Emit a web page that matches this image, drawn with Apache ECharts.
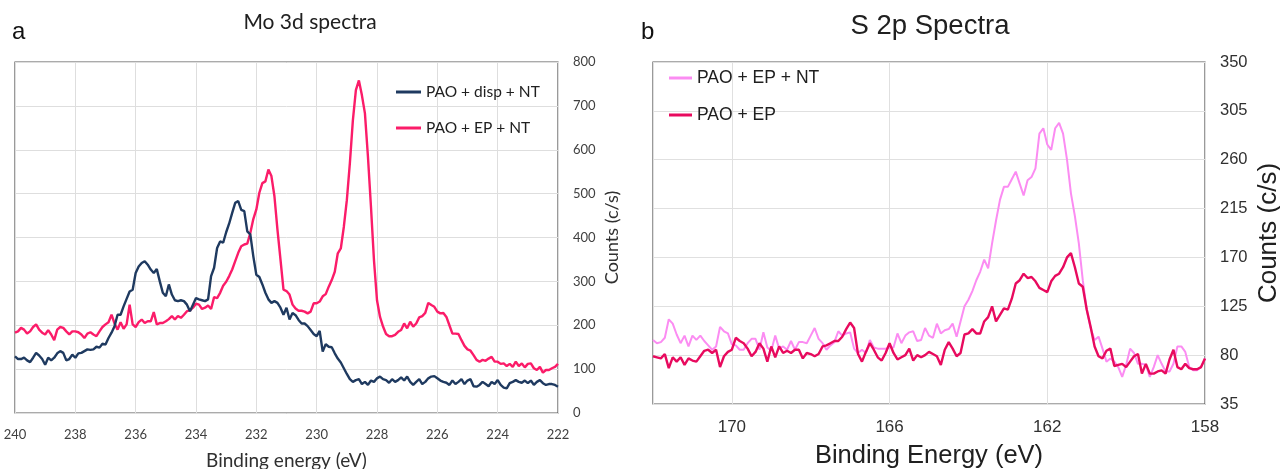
<!DOCTYPE html>
<html>
<head>
<meta charset="utf-8">
<script src="https://cdn.jsdelivr.net/npm/echarts@6/dist/echarts.min.js"></script>
<style>
html,body{margin:0;padding:0;background:#fff;}
#chart{width:1280px;height:469px;}
</style>
</head>
<body>
<div id="chart"></div>
<script>
// ---------- Panel a: Mo 3d spectra (binding energy 240.0 -> 222.0 eV, step 0.1) ----------
const moStart = 240.0;
const moStep = -0.1;
const moDispNT = [
129,123,123,126,120,116,126,137,131,123,110,126,120,126,136,141,137,120,123,133,
126,136,137,141,145,144,145,151,149,158,156,171,183,198,224,224,243,260,277,281,
319,334,342,346,338,327,319,328,300,274,266,293,270,257,255,257,255,247,232,247,
262,259,257,255,259,312,331,376,391,388,412,432,456,479,483,463,460,414,407,357,
315,310,293,274,259,251,255,251,240,224,240,213,228,
223,212,204,204,198,189,180,175,187,140,157,151,150,136,124,115,102,89,77,71,
75,77,66,71,64,74,71,79,83,77,75,69,77,71,75,81,74,83,71,64,
71,77,66,71,79,83,84,79,74,71,69,64,74,66,71,77,66,74,77,61,
60,64,71,66,61,71,66,75,64,58,56,68,71,75,71,69,74,68,74,64,
71,75,68,64,66,66,64,60
];
const moEPNT = [
183,186,194,190,181,186,196,202,190,183,179,189,179,166,190,196,194,186,179,186,
186,184,179,171,181,184,179,175,186,196,202,207,224,204,190,207,192,202,247,202,
196,207,213,205,209,209,230,202,205,205,209,214,221,213,221,217,224,232,234,240,
249,247,237,240,245,237,264,262,274,290,299,312,327,346,365,380,384,386,410,442,
464,502,524,528,555,540,494,418,350,281,278,270,247,
238,233,233,231,227,231,250,250,254,266,271,288,303,322,364,375,424,485,569,667,
736,758,724,683,584,470,348,257,219,197,180,175,175,178,185,189,204,193,208,197,
204,218,221,228,251,246,242,231,227,228,219,200,181,181,180,166,153,145,142,132,
121,117,121,119,124,128,117,117,112,113,107,112,105,117,107,113,104,112,113,102,
98,105,92,98,98,102,105,112
];
const moXTicks = [240,238,236,234,232,230,228,226,224,222];
const moYTicks = [0,100,200,300,400,500,600,700,800];

// ---------- Panel b: S 2p spectra (binding energy 172.0 -> 158.0 eV, step 0.1) ----------
const sStart = 172.0;
const sStep = -0.1;
const sEPNT = [
94,91,92,96,113,109,99,91,98,88,98,94,98,93,89,85,88,106,102,100,
90,89,85,85,91,95,95,85,101,87,84,98,86,88,85,93,85,92,92,91,
98,105,95,91,85,89,92,102,98,100,101,86,82,85,82,94,87,86,86,86,
87,87,100,91,98,101,102,93,94,105,98,
96,109,100,103,104,109,97,111,125,131,139,149,157,168,160,183,204,223,235,235,
242,249,238,227,241,244,252,284,289,274,269,289,294,284,260,229,208,183,149,122,
105,94,97,86,74,77,74,69,60,71,86,82,72,72,71,60,69,80,72,65,
65,72,88,88,83,69,66,66,69,77
];
const sEP = [
79,78,77,81,68,78,74,78,71,77,75,74,79,84,85,82,85,69,79,83,
85,96,93,91,86,79,83,91,86,74,88,78,88,82,84,82,85,85,77,82,
81,79,81,88,89,91,93,93,97,104,110,105,81,74,83,91,85,78,75,82,
91,82,76,78,80,86,75,80,78,80,83,
81,79,71,85,92,86,79,82,99,100,104,100,100,111,115,125,111,117,123,122,
132,146,149,155,151,152,148,142,140,138,148,153,155,161,170,174,161,146,143,122,
106,88,79,77,84,86,70,71,72,69,74,79,81,63,72,63,63,65,66,63,
76,85,69,67,72,68,67,67,69,77
];
const sXTicks = [170,166,162,158];
const sYTicks = [35,80,125,170,215,260,305,350];

function pairs(start, step, vals) {
  return vals.map((v, i) => [Math.round((start + step * i) * 10) / 10, v]);
}

const calibri = 'Lato, "Open Sans", sans-serif';
const arial = '"Liberation Sans", Arial, sans-serif';
const S_SUFFIX = '\u200b';

const chart = echarts.init(document.getElementById('chart'), null, {renderer: 'canvas'});
chart.setOption({
  animation: false,
  backgroundColor: '#ffffff',
  grid: [
    {left: 15, top: 62, width: 543, height: 351, outerBoundsMode: 'none', containLabel: false,
      show: true, borderColor: '#595959', borderWidth: 1.2, backgroundColor: 'transparent'},
    {left: 653, top: 62, width: 552, height: 342, outerBoundsMode: 'none', containLabel: false,
      show: true, borderColor: '#595959', borderWidth: 1.2, backgroundColor: 'transparent'}
  ],
  xAxis: [
    {
      gridIndex: 0, type: 'value', inverse: true,
      min: moXTicks[moXTicks.length - 1], max: moXTicks[0], interval: 2,
      axisLine: {show: false}, axisTick: {show: false},
      axisLabel: {fontFamily: calibri, fontSize: 13, color: '#404040', margin: 15},
      splitLine: {show: true, lineStyle: {color: '#dedede', width: 1}},
      name: 'Binding energy (eV)', nameLocation: 'middle', nameGap: 38,
      nameTextStyle: {fontFamily: calibri, fontSize: 19, color: '#303030'}
    },
    {
      gridIndex: 1, type: 'value', inverse: true,
      min: 158, max: 172, interval: 4,
      axisLine: {show: false}, axisTick: {show: false},
      axisLabel: {fontFamily: arial, fontSize: 17, color: '#303030', margin: 15,
        formatter: v => (sXTicks.indexOf(v) >= 0 ? String(v) : '')},
      splitLine: {show: true, lineStyle: {color: '#e0e0e0', width: 1}},
      name: 'Binding Energy (eV)', nameLocation: 'middle', nameGap: 39,
      nameTextStyle: {fontFamily: arial, fontSize: 25.5, color: '#202020'}
    }
  ],
  yAxis: [
    {
      gridIndex: 0, type: 'value', position: 'right',
      min: moYTicks[0], max: moYTicks[moYTicks.length - 1], interval: 100,
      axisLine: {show: false}, axisTick: {show: false},
      axisLabel: {fontFamily: calibri, fontSize: 13, color: '#404040', margin: 15},
      splitLine: {show: true, lineStyle: {color: '#dedede', width: 1}},
      name: 'Counts (c/s)', nameLocation: 'middle', nameRotate: 90, nameGap: 45,
      nameTextStyle: {fontFamily: calibri, fontSize: 18, color: '#303030'}
    },
    {
      gridIndex: 1, type: 'value', position: 'right',
      min: sYTicks[0], max: sYTicks[sYTicks.length - 1], interval: 45,
      axisLine: {show: false}, axisTick: {show: false},
      axisLabel: {fontFamily: arial, fontSize: 16.5, color: '#303030', margin: 15},
      splitLine: {show: true, lineStyle: {color: '#e0e0e0', width: 1}},
      name: 'Counts (c/s)', nameLocation: 'middle', nameRotate: 90, nameGap: 51,
      nameTextStyle: {fontFamily: arial, fontSize: 26, color: '#202020'}
    }
  ],
  legend: [
    {
      left: 391, top: 79, orient: 'vertical', itemGap: 20,
      icon: 'rect', itemWidth: 25, itemHeight: 3,
      textStyle: {fontFamily: calibri, fontSize: 15.5, color: '#202020'},
      data: ['PAO + disp + NT', 'PAO + EP + NT']
    },
    {
      left: 664, top: 64, orient: 'vertical', itemGap: 19,
      icon: 'rect', itemWidth: 23, itemHeight: 3,
      formatter: name => name.replace(S_SUFFIX, ''),
      textStyle: {fontFamily: arial, fontSize: 17.5, color: '#202020'},
      data: ['PAO + EP + NT' + S_SUFFIX, 'PAO + EP']
    }
  ],
  series: [
    {name: 'PAO + EP + NT', type: 'line', xAxisIndex: 0, yAxisIndex: 0, symbol: 'none',
      data: pairs(moStart, moStep, moEPNT), lineStyle: {color: '#fb1c69', width: 2.4}, itemStyle: {color: '#fb1c69'}, z: 2},
    {name: 'PAO + disp + NT', type: 'line', xAxisIndex: 0, yAxisIndex: 0, symbol: 'none',
      data: pairs(moStart, moStep, moDispNT), lineStyle: {color: '#1f3a60', width: 2.4}, itemStyle: {color: '#1f3a60'}, z: 3},
    {name: 'PAO + EP + NT' + S_SUFFIX, type: 'line', xAxisIndex: 1, yAxisIndex: 1, symbol: 'none',
      data: pairs(sStart, sStep, sEPNT), lineStyle: {color: '#fb8cf2', width: 2}, itemStyle: {color: '#fb8cf2'}, z: 2},
    {name: 'PAO + EP', type: 'line', xAxisIndex: 1, yAxisIndex: 1, symbol: 'none',
      data: pairs(sStart, sStep, sEP), lineStyle: {color: '#e80a5e', width: 2.4}, itemStyle: {color: '#e80a5e'}, z: 3}
  ],
  graphic: [
    {type: 'text', x: 12, y: 32, style: {text: 'a', font: '24px "Liberation Sans", Arial, sans-serif', fill: '#111', align: 'left', verticalAlign: 'middle'}},
    {type: 'text', x: 310, y: 22, style: {text: 'Mo 3d spectra', font: '21px Lato, sans-serif', fill: '#202020', align: 'center', verticalAlign: 'middle'}},
    {type: 'text', x: 641, y: 32, style: {text: 'b', font: '24px "Liberation Sans", Arial, sans-serif', fill: '#111', align: 'left', verticalAlign: 'middle'}},
    {type: 'text', x: 930, y: 26, style: {text: 'S 2p Spectra', font: '27.5px "Liberation Sans", Arial, sans-serif', fill: '#202020', align: 'center', verticalAlign: 'middle'}}
  ]
});
</script>
</body>
</html>
